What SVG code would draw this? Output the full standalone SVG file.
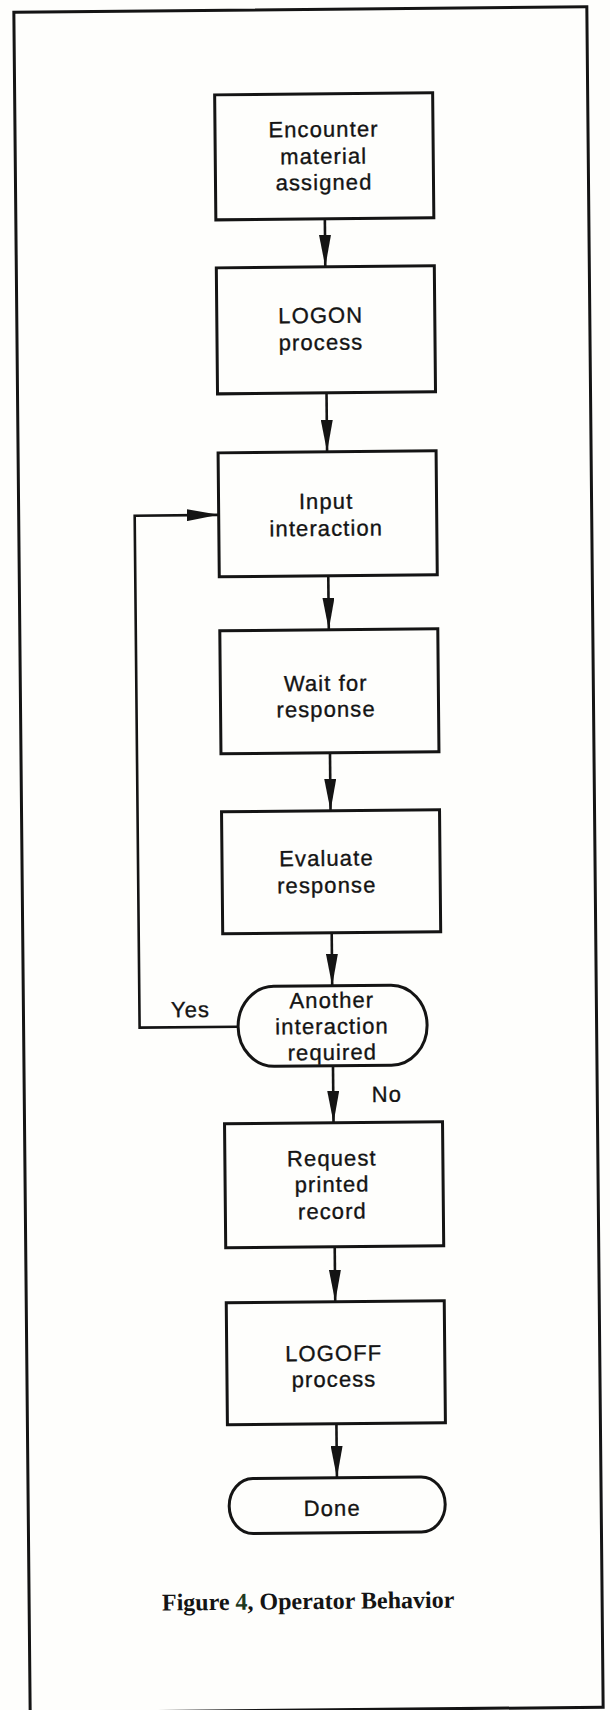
<svg xmlns="http://www.w3.org/2000/svg" width="610" height="1710" viewBox="0 0 610 1710">
  <style>
    .frame { fill: none; stroke: #141414; stroke-width: 3; }
    .box { fill: none; stroke: #141414; stroke-width: 3; stroke-linejoin: miter; }
    .conn { fill: none; stroke: #141414; stroke-width: 2.6; }
    .lbl { font-family: "Liberation Sans", Arial, Helvetica, sans-serif; font-size: 22px; letter-spacing: 1.1px; fill: #141414; stroke: #141414; stroke-width: 0.35; text-anchor: middle; }
    .tag { font-family: "Liberation Sans", Arial, Helvetica, sans-serif; font-size: 22px; letter-spacing: 1.1px; fill: #141414; stroke: #141414; stroke-width: 0.35; }
    .caption { font-family: "Liberation Serif", "Times New Roman", serif; font-size: 24px; font-weight: bold; fill: #141414; text-anchor: middle; }
  </style>
  <defs>
    <marker id="arrow" markerUnits="userSpaceOnUse" markerWidth="32" markerHeight="12" refX="32" refY="6" orient="auto">
      <path d="M0,0 L32,6 L0,12 Z" fill="#141414"/>
    </marker>
  </defs>

  <rect x="0" y="0" width="610" height="1710" fill="#fefefc"/>

  <!-- whole page sits slightly askew on the sheet -->
  <g transform="rotate(-0.55 310 860)">
    <rect class="frame" x="22" y="9.5" width="573" height="1700.5"/>

    <g id="connectors">
      <line class="conn" x1="331" y1="219" x2="331" y2="267" marker-end="url(#arrow)"/>
      <line class="conn" x1="331" y1="393" x2="331" y2="452" marker-end="url(#arrow)"/>
      <line class="conn" x1="331" y1="576" x2="331" y2="630" marker-end="url(#arrow)"/>
      <line class="conn" x1="331" y1="753" x2="331" y2="811" marker-end="url(#arrow)"/>
      <line class="conn" x1="331" y1="933" x2="331" y2="986" marker-end="url(#arrow)"/>
      <line class="conn" x1="331" y1="1066" x2="331" y2="1123" marker-end="url(#arrow)"/>
      <line class="conn" x1="331" y1="1247" x2="331" y2="1302" marker-end="url(#arrow)"/>
      <line class="conn" x1="331" y1="1424" x2="331" y2="1478" marker-end="url(#arrow)"/>
      <!-- "Yes" loop back to the input step -->
      <path class="conn" d="M236.5,1026 H138 V514 H222" marker-end="url(#arrow)"/>
      <text class="tag" x="169.5" y="1016">Yes</text>
      <text class="tag" x="369.5" y="1102.5">No</text>
    </g>

    <g id="encounter">
      <rect class="box" x="222" y="94" width="218" height="125"/>
      <text class="lbl" x="330.5" y="137">Encounter</text>
      <text class="lbl" x="330.5" y="164">material</text>
      <text class="lbl" x="330.5" y="190">assigned</text>
    </g>

    <g id="logon">
      <rect class="box" x="222" y="267" width="218" height="126"/>
      <text class="lbl" x="326" y="323">LOGON</text>
      <text class="lbl" x="326" y="350">process</text>
    </g>

    <g id="input">
      <rect class="box" x="222" y="452" width="218" height="124"/>
      <text class="lbl" x="329.5" y="509">Input</text>
      <text class="lbl" x="329.5" y="536">interaction</text>
    </g>

    <g id="wait">
      <rect class="box" x="222" y="630" width="218" height="123"/>
      <text class="lbl" x="327.5" y="691">Wait for</text>
      <text class="lbl" x="327.5" y="717">response</text>
    </g>

    <g id="evaluate">
      <rect class="box" x="222" y="811" width="218" height="122"/>
      <text class="lbl" x="326.5" y="866">Evaluate</text>
      <text class="lbl" x="326.5" y="893">response</text>
    </g>

    <g id="another">
      <rect class="box" x="236.5" y="986" width="189" height="80" rx="36" ry="40"/>
      <text class="lbl" x="330.5" y="1008">Another</text>
      <text class="lbl" x="330.5" y="1034">interaction</text>
      <text class="lbl" x="330.5" y="1060">required</text>
    </g>

    <g id="request">
      <rect class="box" x="222" y="1123" width="218" height="124"/>
      <text class="lbl" x="329" y="1166">Request</text>
      <text class="lbl" x="329" y="1192">printed</text>
      <text class="lbl" x="329" y="1219">record</text>
    </g>

    <g id="logoff">
      <rect class="box" x="222" y="1302" width="218" height="122"/>
      <text class="lbl" x="329" y="1361">LOGOFF</text>
      <text class="lbl" x="329" y="1387">process</text>
    </g>

    <g id="done">
      <rect class="box" x="223" y="1478" width="216" height="55" rx="24" ry="27.5"/>
      <text class="lbl" x="326" y="1516">Done</text>
    </g>

    <text class="caption" x="301" y="1609">Figure <tspan fill="#1e3a1e">4</tspan>, Operator Behavior</text>
  </g>
</svg>
